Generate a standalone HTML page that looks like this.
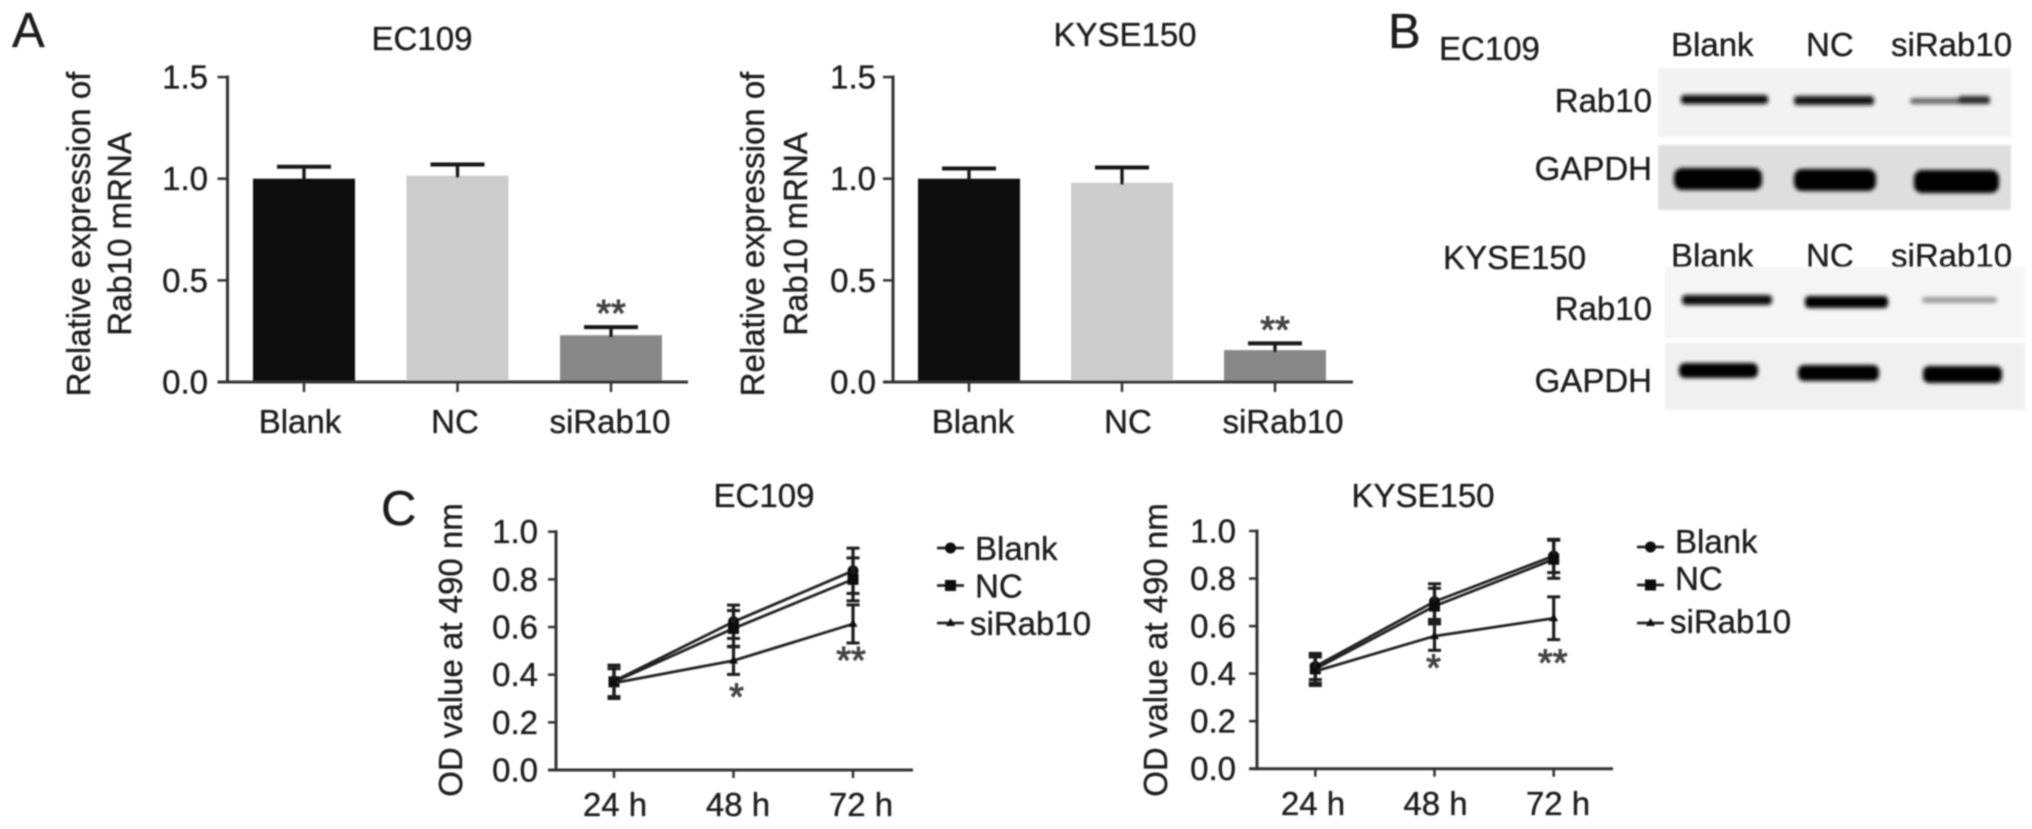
<!DOCTYPE html>
<html lang="en">
<head>
<meta charset="utf-8">
<title>Rab10 knockdown figure</title>
<style>
  html, body { margin: 0; padding: 0; background: #fff; }
  body { width: 2032px; height: 829px; overflow: hidden; }
  svg { display: block; }
  text { font-family: "Liberation Sans", sans-serif; fill: #1a1a1a; stroke: #1a1a1a; stroke-width: 0.35px; font-size: 33px; }
</style>
</head>
<body>
<svg id="figure" xmlns="http://www.w3.org/2000/svg" width="2032" height="829" viewBox="0 0 2032 829">
  <defs>
    <filter id="soft" x="-2%" y="-2%" width="104%" height="104%"><feGaussianBlur stdDeviation="0.7"/></filter>
    <filter id="band" x="-20%" y="-100%" width="140%" height="300%"><feGaussianBlur stdDeviation="2.2"/></filter>
    <filter id="edge" x="-5%" y="-5%" width="110%" height="110%"><feGaussianBlur stdDeviation="1.2"/></filter>
  </defs>
  <rect x="0" y="0" width="2032" height="829" fill="#fff"/>

  <g id="plots" filter="url(#soft)">
    <text x="12" y="47" style="font-size:49px">A</text>
    <text x="1388" y="48" style="font-size:49px">B</text>
    <text x="381" y="525" style="font-size:49px">C</text>

    <text x="422" y="50" text-anchor="middle">EC109</text>
    <text x="1125" y="46" text-anchor="middle">KYSE150</text>
    <text x="764" y="507" text-anchor="middle">EC109</text>
    <text x="1423" y="507" text-anchor="middle">KYSE150</text>

    <text text-anchor="middle" transform="translate(90 234) rotate(-90)">Relative expression of</text>
    <text text-anchor="middle" transform="translate(131 234) rotate(-90)">Rab10 mRNA</text>
    <text text-anchor="middle" transform="translate(764 234) rotate(-90)">Relative expression of</text>
    <text text-anchor="middle" transform="translate(807 234) rotate(-90)">Rab10 mRNA</text>
    <text text-anchor="middle" transform="translate(462 650) rotate(-90)">OD value at 490 nm</text>
    <text text-anchor="middle" transform="translate(1167 650) rotate(-90)">OD value at 490 nm</text>

    <text x="1439" y="60">EC109</text>
    <text x="1443" y="269">KYSE150</text>
    <text x="1671" y="56">Blank</text>
    <text x="1806" y="56">NC</text>
    <text x="1891" y="56">siRab10</text>
    <text x="1671" y="267">Blank</text>
    <text x="1806" y="267">NC</text>
    <text x="1891" y="267">siRab10</text>
    <text x="1652" y="112" text-anchor="end">Rab10</text>
    <text x="1652" y="180" text-anchor="end">GAPDH</text>
    <text x="1652" y="320" text-anchor="end">Rab10</text>
    <text x="1652" y="392" text-anchor="end">GAPDH</text>
  </g>

  <g>
    <g filter="url(#edge)">
      <rect x="1658" y="68" width="353" height="69" fill="#f2f2f2"/>
      <rect x="1658" y="145" width="353" height="65" fill="#dedede"/>
      <rect x="1665" y="267" width="360" height="71" fill="#f5f5f5"/>
      <rect x="1665" y="343" width="360" height="67" fill="#f0f0f0"/>
    </g>
    <g filter="url(#band)">
      <rect x="1681" y="95" width="87" height="9" rx="3" fill="#111"/>
      <rect x="1794" y="96" width="80" height="9" rx="3" fill="#151515"/>
      <rect x="1910" y="98" width="80" height="6" rx="3" fill="#666"/>
      <rect x="1958" y="96" width="32" height="8" rx="3" fill="#2a2a2a"/>
      <rect x="1674" y="168" width="88" height="22" rx="8" fill="#030303"/>
      <rect x="1794" y="169" width="82" height="22" rx="8" fill="#030303"/>
      <rect x="1914" y="170" width="85" height="23" rx="8" fill="#030303"/>
      <rect x="1682" y="295" width="90" height="10" rx="4" fill="#0a0a0a"/>
      <rect x="1805" y="296" width="83" height="12" rx="4" fill="#050505"/>
      <rect x="1922" y="297" width="75" height="6" rx="3" fill="#999"/>
      <rect x="1679" y="363" width="79" height="15" rx="6" fill="#050505"/>
      <rect x="1798" y="365" width="81" height="16" rx="6" fill="#050505"/>
      <rect x="1923" y="366" width="79" height="17" rx="6" fill="#050505"/>
    </g>
  </g>
</svg>

<script>
// Bar chart data
const barCategories = ['Blank', 'NC', 'siRab10'];
const barTickLabels = ['0.0', '0.5', '1.0', '1.5'];
const barTickValues = [0, 0.5, 1, 1.5];
const ec109BarValues = [1.0, 1.015, 0.23];
const ec109BarErrors = [0.059, 0.055, 0.04];
const kyse150BarValues = [1.0, 0.98, 0.157];
const kyse150BarErrors = [0.05, 0.075, 0.033];
const barSignificance = ['', '', '**'];

// Line chart data
const lineCategories = ['24 h', '48 h', '72 h'];
const lineTickLabels = ['0.0', '0.2', '0.4', '0.6', '0.8', '1.0'];
const lineTickValues = [0, 0.2, 0.4, 0.6, 0.8, 1.0];
const lineSeriesNames = ['Blank', 'NC', 'siRab10'];
const ec109Blank = [0.373, 0.622, 0.836];
const ec109BlankSd = [0.065, 0.07, 0.095];
const ec109Nc = [0.37, 0.594, 0.80];
const ec109NcSd = [0.07, 0.075, 0.09];
const ec109Si = [0.365, 0.459, 0.613];
const ec109SiSd = [0.06, 0.058, 0.08];
const kyse150Blank = [0.43, 0.703, 0.895];
const kyse150BlankSd = [0.055, 0.075, 0.07];
const kyse150Nc = [0.42, 0.684, 0.881];
const kyse150NcSd = [0.06, 0.075, 0.08];
const kyse150Si = [0.41, 0.558, 0.633];
const kyse150SiSd = [0.06, 0.06, 0.09];
const lineSignificance = ['', '*', '**'];

const SVG_NS = 'http://www.w3.org/2000/svg';
const AXIS = '#333';
const plots = document.getElementById('plots');

function mk(tag, attrs, parent) {
  const el = document.createElementNS(SVG_NS, tag);
  for (const k in attrs) el.setAttribute(k, attrs[k]);
  parent.appendChild(el);
  return el;
}
function line(parent, x1, y1, x2, y2, w, color) {
  return mk('line', { x1: x1, y1: y1, x2: x2, y2: y2, stroke: color || AXIS, 'stroke-width': w }, parent);
}
function label(parent, x, y, str, anchor) {
  const t = mk('text', { x: x, y: y, 'text-anchor': anchor || 'middle' }, parent);
  t.textContent = str;
  return t;
}
function star(parent, x, cy, str) {
  const t = mk('text', { x: x, y: cy + 18, 'text-anchor': 'middle', style: 'font-size:38px;fill:#444;stroke:#444;stroke-width:1px' }, parent);
  t.textContent = str;
  return t;
}

function drawAxes(g, p, tickValues, tickLabels, categories) {
  const yAxis = line(g, p.axisX, p.y(tickValues[tickValues.length - 1]) - 1.5, p.axisX, p.y(0) + 1.5, 3);
  
  
  const xAxis = line(g, p.axisX - p.tickLen, p.y(0), p.axisEnd, p.y(0), 3);
  
  
  tickValues.forEach(function (v, i) {
    const tick = line(g, p.axisX - p.tickLen, p.y(v), p.axisX, p.y(v), 2.5);
    
    
    const tl = label(g, p.labelRight, p.y(v) + 11.5, tickLabels[i], 'end');
    
    
  });
  categories.forEach(function (c, i) {
    const tick = line(g, p.x(i), p.y(0), p.x(i), p.y(0) + p.tickLen, 2.5);
    
    
    const tl = label(g, p.labelX(i), p.labelY, c);
    
    
  });
}

function barPanel(name, p, values, errors) {
  const g = mk('g', {}, plots);
  
  
  const fills = ['#111', '#ccc', '#888'];
  values.forEach(function (v, i) {
    const cx = p.x(i);
    const bar = mk('rect', { x: cx - 51, y: p.y(v), width: 102, height: p.y(0) - p.y(v), fill: fills[i] }, g);
    
    
    const top = p.y(v + errors[i]);
    const stem = line(g, cx, top, cx, p.y(v) + 2, 3.4, '#151515');
    
    
    const cap = line(g, cx - 27, top, cx + 27, top, 4, '#151515');
    
    
    if (barSignificance[i]) {
      const s = star(g, cx, top - 19, barSignificance[i]);
      
      
    }
  });
  drawAxes(g, p, barTickValues, barTickLabels, barCategories);
}

function marker(g, kind, x, y) {
  if (kind === 0) return mk('circle', { cx: x, cy: y, r: 5.5, fill: '#111' }, g);
  if (kind === 1) return mk('rect', { x: x - 5.5, y: y - 5.5, width: 11, height: 11, fill: '#111' }, g);
  return mk('polygon', { points: (x - 4.5) + ',' + (y + 3) + ' ' + (x + 4.5) + ',' + (y + 3) + ' ' + x + ',' + (y - 5), fill: '#111' }, g);
}

function linePanel(name, p, series, sds) {
  const g = mk('g', {}, plots);
  
  
  drawAxes(g, p, lineTickValues, lineTickLabels, lineCategories);
  series.forEach(function (vals, s) {
    const pts = vals.map(function (v, i) { return p.x(i) + ',' + p.y(v); }).join(' ');
    const path = mk('polyline', { points: pts, fill: 'none', stroke: '#222', 'stroke-width': 2.8 }, g);
    
    
    vals.forEach(function (v, i) {
      const cx = p.x(i);
      const hi = p.y(v + sds[s][i]);
      const lo = p.y(v - sds[s][i]);
      const stem = line(g, cx, hi, cx, lo, 3.2, '#1a1a1a');
      
      
      const capHi = line(g, cx - 6.5, hi, cx + 6.5, hi, 3, '#1a1a1a');
      
      
      const capLo = line(g, cx - 6.5, lo, cx + 6.5, lo, 3, '#1a1a1a');
      
      
      const m = marker(g, s, cx, p.y(v));
      
      
    });
  });
  const si = series.length - 1;
  lineSignificance.forEach(function (mark, i) {
    if (!mark) return;
    const s = star(g, p.x(i) + p.starDx[i], p.y(series[si][i] - sds[si][i]) + p.starDy[i], mark);
    
    
  });
  // legend
  lineSeriesNames.forEach(function (n, s) {
    const ly = p.legendY(s);
    const entry = mk('g', {}, g);
    
    
    line(entry, p.legendX, ly, p.legendX + 27, ly, 2.8, '#222');
    marker(entry, s, p.legendX + 13.5, ly);
    label(entry, s === 2 ? p.legendText - 5 : p.legendText, p.legendBase(s), n, 'start');
  });
}

function scale(zero, unit) { return function (v) { return zero - v * unit; }; }
function band(start, step) { return function (i) { return start + i * step; }; }
function kyseLegendBase(s) {
  if (s === 0) return 553;
  if (s === 1) return 590;
  return 633;
}

barPanel('bar-chart-ec109', {
  axisX: 227.5, axisEnd: 688, tickLen: 10, labelRight: 208, labelY: 433,
  y: scale(382, 203.3), x: band(304, 153.5), labelX: band(300, 155)
}, ec109BarValues, ec109BarErrors);

barPanel('bar-chart-kyse150', {
  axisX: 893, axisEnd: 1353, tickLen: 10, labelRight: 876, labelY: 433,
  y: scale(382, 203.3), x: band(969, 153), labelX: band(973, 155)
}, kyse150BarValues, kyse150BarErrors);

linePanel('line-chart-ec109', {
  axisX: 556, axisEnd: 913, tickLen: 8, labelRight: 538, labelY: 816,
  y: scale(770, 238.3), x: band(614, 119.5), labelX: band(615, 123),
  starDx: [0, 3, -2], starDy: [0, 17, 12],
  legendX: 937, legendText: 975,
  legendY: band(548, 37.5), legendBase: band(560, 37.5)
}, [ec109Blank, ec109Nc, ec109Si], [ec109BlankSd, ec109NcSd, ec109SiSd]);

linePanel('line-chart-kyse150', {
  axisX: 1257, axisEnd: 1613, tickLen: 8, labelRight: 1236, labelY: 815,
  y: scale(768.7, 237.7), x: band(1315.3, 119.2), labelX: band(1313, 122.5),
  starDx: [0, -1, -1], starDy: [0, 12, 18],
  legendX: 1637, legendText: 1675,
  legendY: band(547, 38), legendBase: kyseLegendBase
}, [kyse150Blank, kyse150Nc, kyse150Si], [kyse150BlankSd, kyse150NcSd, kyse150SiSd]);
</script>
</body>
</html>
